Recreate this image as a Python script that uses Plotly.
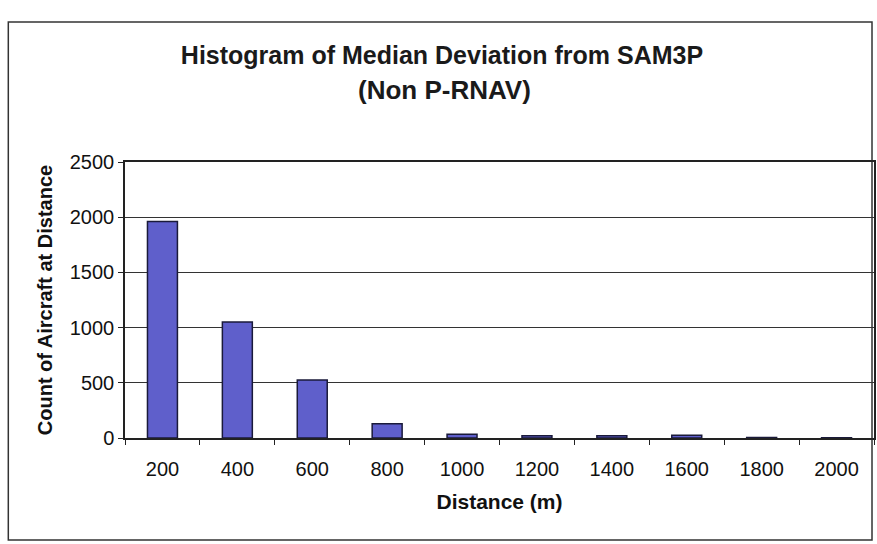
import plotly.graph_objects as go

# Histogram bins (m) and aircraft counts per bin
distance_bins = ["200", "400", "600", "800", "1000", "1200", "1400", "1600", "1800", "2000"]
aircraft_counts = [1960, 1050, 525, 130, 35, 20, 20, 25, 5, 3]
y_ticks = [0, 500, 1000, 1500, 2000, 2500]

W, H = 877, 544
L, R, T, B = 125, 1, 162, 106
pw, ph = W - L - R, H - T - B

def px_x(x):
    return (x - L) / pw

def px_y(y):
    return (H - B - y) / ph

fig = go.Figure(
    go.Bar(
        x=distance_bins,
        y=aircraft_counts,
        marker=dict(color="#5F5FCB", line=dict(color="#1a1a3a", width=1.5)),
    )
)

font = "Liberation Sans, Arial, sans-serif"

fig.update_layout(
    width=W,
    height=H,
    margin=dict(l=L, r=R, t=T, b=B),
    paper_bgcolor="white",
    plot_bgcolor="white",
    bargap=0.6,
    showlegend=False,
    font=dict(family=font, color="#111"),
    title=dict(
        text="<b>Histogram of Median Deviation from SAM3P</b>",
        x=442 / W,
        xanchor="center",
        y=1 - 55 / H,
        yanchor="middle",
        font=dict(size=25, family=font, color="#1a1a1a"),
    ),
    annotations=[
        dict(
            text="<b>(Non P-RNAV)</b>",
            xref="paper",
            yref="paper",
            x=px_x(445),
            y=px_y(90),
            xanchor="center",
            yanchor="middle",
            showarrow=False,
            font=dict(size=26, family=font, color="#1a1a1a"),
        )
    ],
    xaxis=dict(
        type="category",
        tickson="boundaries",
        ticks="outside",
        ticklen=5,
        tickcolor="#222",
        ticklabelstandoff=12,
        tickfont=dict(size=20, family=font, color="#111"),
        showline=True,
        linecolor="#222",
        linewidth=1.5,
        mirror=True,
        showgrid=False,
        title=dict(text="<b>Distance (m)</b>", font=dict(size=21, family=font), standoff=16),
    ),
    yaxis=dict(
        range=[0, 2500],
        tickvals=y_ticks,
        ticks="outside",
        ticklen=5,
        tickcolor="#222",
        tickfont=dict(size=20, family=font, color="#111"),
        showline=True,
        linecolor="#222",
        linewidth=1.5,
        mirror=True,
        showgrid=True,
        gridcolor="#333",
        gridwidth=1.2,
        zeroline=False,
        title=dict(text="<b>Count of Aircraft at Distance</b>", font=dict(size=20, family=font), standoff=12),
    ),
    shapes=[
        dict(
            type="rect",
            xref="paper",
            yref="paper",
            x0=px_x(8),
            x1=px_x(874),
            y0=px_y(540),
            y1=px_y(22),
            line=dict(color="#333", width=1.5),
            fillcolor="rgba(0,0,0,0)",
            layer="below",
        )
    ],
)

fig.write_html("out.html")
